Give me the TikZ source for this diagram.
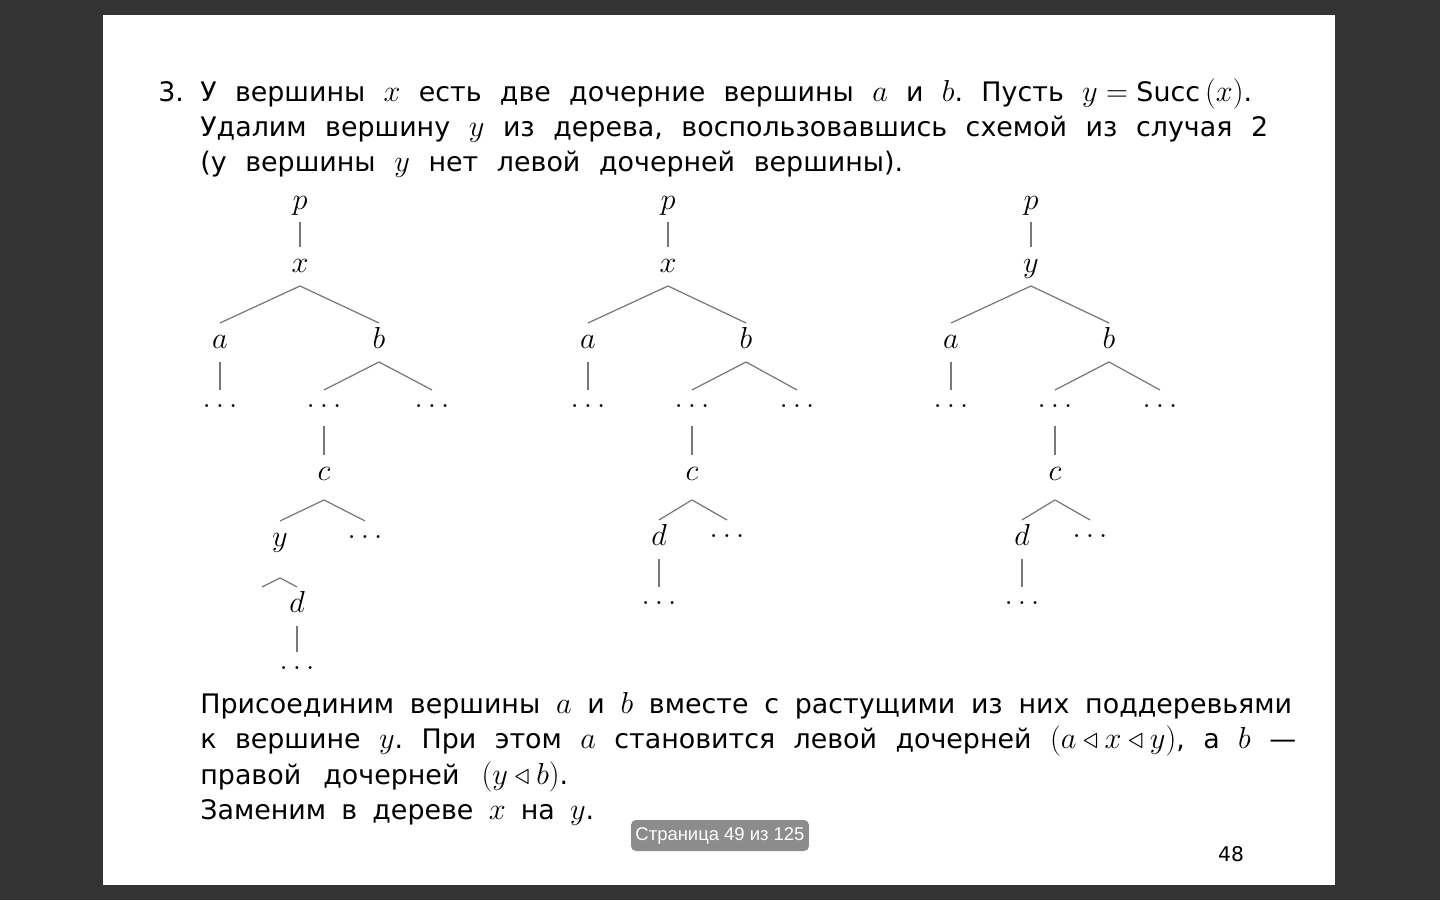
\documentclass[tikz,border=0pt]{standalone}
\usepackage{fontspec}
\setmainfont{DejaVu Sans}[Scale=0.9]
\newfontfamily\osdfont{Liberation Sans}
\usetikzlibrary{positioning}
\definecolor{deskgray}{RGB}{51,51,51}
\definecolor{linkgray}{RGB}{120,120,120}
\definecolor{osdgray}{RGB}{140,140,140}
\frenchspacing
\thickmuskip=5mu\medmuskip=4mu

\begin{document}
\begin{tikzpicture}[x=0.02cm, y=-0.02cm,
        vtx/.style={inner sep=0pt, outer sep=0pt, text height=0.52cm, text depth=0.26cm, font=\fontsize{18.5}{22}\selectfont},
        gap/.style={vtx, text height=0.36cm, text depth=0.36cm},
        link/.style={draw=linkgray, line width=0.7pt},
        txt/.style={inner sep=0pt, anchor=base west, font=\fontsize{17}{20}\selectfont}]
    \useasboundingbox (0,0) rectangle (1440,900);
    \fill[deskgray] (0,0) rectangle (1440,900);
    \fill[white] (103,15) rectangle (1335,885);

    % text above the trees
    \node[txt] (num) at (158,101) {3.};
    \node[txt] (l1) at (200,101) {\makebox[21.04cm][s]{У вершины $x$ есть две дочерние вершины $a$ и $b$. Пусть $y=\mbox{Succ}\,(x)$.}};
    \node[txt] (l2) at (200,136) {\makebox[21.36cm][s]{Удалим вершину $y$ из дерева, воспользовавшись схемой из случая 2}};
    \node[txt] (l3) at (200,171) {\makebox[14.06cm][s]{(у вершины $y$ нет левой дочерней вершины).}};

    % tree 1
    \node[vtx, anchor=base] (p1) at (300,209) {$p$};
    \node[vtx, below=0.5cm of p1] (x1) {$x$};
    \node[vtx, below=0.74cm of x1, xshift=-1.6cm] (a1) {$a$};
    \node[vtx, below=0.74cm of x1, xshift=1.58cm] (b1) {$b$};
    \node[gap, below=0.56cm of a1] (da1) {$\dots$};
    \node[gap, below=0.56cm of b1, xshift=-1.1cm] (dl1) {$\dots$};
    \node[gap, below=0.56cm of b1, xshift=1.06cm] (dr1) {$\dots$};
    \node[vtx, text depth=0.38cm, below=0.58cm of dl1] (c1) {$c$};
    \node[vtx, below=0.42cm of c1, xshift=-0.88cm] (y1) {$y$};
    \node[gap, below=0.42cm of c1, xshift=0.82cm] (dc1) {$\dots$};
    \coordinate[below=0.36cm of y1] (yk1);
    \coordinate[below left=0.18cm and 0.36cm of yk1] (ye1);
    \node[vtx, below=0.18cm of yk1, xshift=0.34cm] (d1) {$d$};
    \node[gap, below=0.52cm of d1] (dd1) {$\dots$};
    \draw[link] (p1.south) -- (x1.north);
    \draw[link] (x1.south) -- (a1.north) (x1.south) -- (b1.north);
    \draw[link] (a1.south) -- (da1.north);
    \draw[link] (b1.south) -- (dl1.north) (b1.south) -- (dr1.north);
    \draw[link] (dl1.south) -- (c1.north);
    \draw[link] (c1.south) -- (y1.north) (c1.south) -- (dc1.north);
    \draw[link] (yk1) -- (ye1) (yk1) -- (d1.north);
    \draw[link] (d1.south) -- (dd1.north);

    % tree 2
    \node[vtx, anchor=base] (p2) at (668,209) {$p$};
    \node[vtx, below=0.5cm of p2] (x2) {$x$};
    \node[vtx, below=0.74cm of x2, xshift=-1.6cm] (a2) {$a$};
    \node[vtx, below=0.74cm of x2, xshift=1.56cm] (b2) {$b$};
    \node[gap, below=0.56cm of a2] (da2) {$\dots$};
    \node[gap, below=0.56cm of b2, xshift=-1.08cm] (dl2) {$\dots$};
    \node[gap, below=0.56cm of b2, xshift=1.02cm] (dr2) {$\dots$};
    \node[vtx, text depth=0.38cm, below=0.58cm of dl2] (c2) {$c$};
    \node[vtx, below=0.4cm of c2, xshift=-0.66cm] (d2) {$d$};
    \node[gap, below=0.4cm of c2, xshift=0.7cm] (dc2) {$\dots$};
    \node[gap, below=0.56cm of d2] (dd2) {$\dots$};
    \draw[link] (p2.south) -- (x2.north);
    \draw[link] (x2.south) -- (a2.north) (x2.south) -- (b2.north);
    \draw[link] (a2.south) -- (da2.north);
    \draw[link] (b2.south) -- (dl2.north) (b2.south) -- (dr2.north);
    \draw[link] (dl2.south) -- (c2.north);
    \draw[link] (c2.south) -- (d2.north) (c2.south) -- (dc2.north);
    \draw[link] (d2.south) -- (dd2.north);

    % tree 3
    \node[vtx, anchor=base] (p3) at (1031,209) {$p$};
    \node[vtx, below=0.5cm of p3] (y3) {$y$};
    \node[vtx, below=0.74cm of y3, xshift=-1.6cm] (a3) {$a$};
    \node[vtx, below=0.74cm of y3, xshift=1.56cm] (b3) {$b$};
    \node[gap, below=0.56cm of a3] (da3) {$\dots$};
    \node[gap, below=0.56cm of b3, xshift=-1.08cm] (dl3) {$\dots$};
    \node[gap, below=0.56cm of b3, xshift=1.02cm] (dr3) {$\dots$};
    \node[vtx, text depth=0.38cm, below=0.58cm of dl3] (c3) {$c$};
    \node[vtx, below=0.4cm of c3, xshift=-0.66cm] (d3) {$d$};
    \node[gap, below=0.4cm of c3, xshift=0.7cm] (dc3) {$\dots$};
    \node[gap, below=0.56cm of d3] (dd3) {$\dots$};
    \draw[link] (p3.south) -- (y3.north);
    \draw[link] (y3.south) -- (a3.north) (y3.south) -- (b3.north);
    \draw[link] (a3.south) -- (da3.north);
    \draw[link] (b3.south) -- (dl3.north) (b3.south) -- (dr3.north);
    \draw[link] (dl3.south) -- (c3.north);
    \draw[link] (c3.south) -- (d3.north) (c3.south) -- (dc3.north);
    \draw[link] (d3.south) -- (dd3.north);

    % text below the trees
    \node[txt] (m1) at (200,713) {\makebox[21.84cm][s]{Присоединим вершины $a$ и $b$ вместе с растущими из них поддеревьями}};
    \node[txt] (m2) at (200,748) {\makebox[21.92cm][s]{к вершине $y$. При этом $a$ становится левой дочерней $(a\triangleleft x\triangleleft y)$, а $b$ —}};
    \node[txt] (m3) at (200,784) {\makebox[7.36cm][s]{правой дочерней $(y\triangleleft b)$.}};
    \node[txt] (m4) at (200,819) {\makebox[7.88cm][s]{Заменим в дереве $x$ на $y$.}};

    \node[anchor=base, inner sep=0pt, font=\fontsize{12.8}{15}\selectfont] (pgno) at (1231,861) {48};
    \node[fill=osdgray, rounded corners=0.1cm, text=white, minimum width=3.56cm, minimum height=0.62cm, inner sep=0pt, font=\osdfont\fontsize{10.5}{12}\selectfont] (osd) at (720,835.5) {Страница 49 из 125};
\end{tikzpicture}
\end{document}
